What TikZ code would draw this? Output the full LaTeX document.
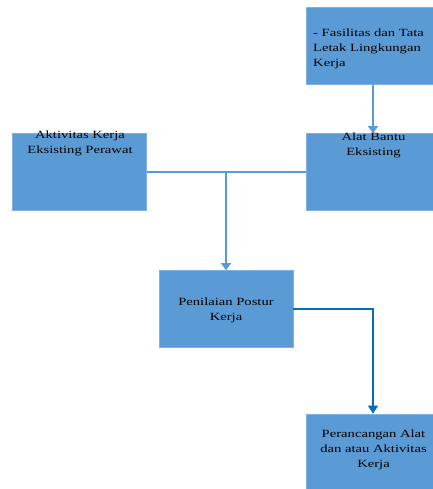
\documentclass[tikz,border=0pt]{standalone}
\usepackage{fontspec}
\setmainfont{Liberation Serif}[FakeStretch=1.33]
\usetikzlibrary{arrows.meta}
\definecolor{boxblue}{HTML}{5B9BD5}
\definecolor{boxline}{HTML}{7EB1E1}
\definecolor{darkline}{HTML}{0070C0}
\tikzset{
    box/.style={rectangle, fill=boxblue, draw=boxline, line width=0.6pt,
            minimum width=134pt, minimum height=77pt, inner sep=0pt},
    txt/.style={inner sep=0pt, align=center, font=\fontsize{11}{15}\selectfont},
    link/.style={draw=boxblue, line width=1.5pt},
    arr/.style={link, -{Triangle[width=10pt,length=7pt]}},
    arrdark/.style={draw=darkline, line width=1.3pt, -{Triangle[width=10pt,length=8pt]}},
}

\begin{document}
\begin{tikzpicture}[x=1pt, y=1pt]
        \useasboundingbox (0, 0) rectangle (432, -489);
        %draw boxes
        \node[box] (fasil) at (373, -46) {};
        \node[box] (alat) at (373, -172) {};
        \node[box] (aktiv) at (79.5, -172) {};
        \node[box] (penil) at (226, -309) {};
        \node[box] (peran) at (373, -452.5) {};
        %draw connectors
        \coordinate (jn) at (penil.north |- aktiv.east);
        \draw[arr] (fasil) -- (alat);
        \draw[link] (aktiv.east) -- (alat.west);
        \draw[arr] (jn) -- (penil);
        \draw[arrdark] (penil.east) -| (peran.north);
        %label boxes
        \node[txt, align=left, anchor=north west] (fasil-t) at (313, -28.5) {- Fasilitas dan Tata\\Letak Lingkungan\\Kerja};
        \node[txt, anchor=north] (alat-t) at (373.5, -132.5) {Alat Bantu\\Eksisting};
        \node[txt, anchor=north] (aktiv-t) at (80, -130.5) {Aktivitas Kerja\\Eksisting Perawat};
        \node[txt, anchor=north] (penil-t) at (226, -297.5) {Penilaian Postur\\Kerja};
        \node[txt, anchor=north] (peran-t) at (373.5, -429.5) {Perancangan Alat\\dan atau Aktivitas\\Kerja};
    \end{tikzpicture}
\end{document}
